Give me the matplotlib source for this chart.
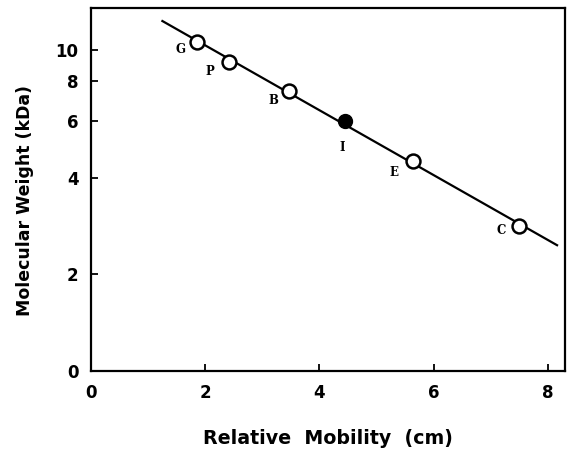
import numpy as np
import matplotlib
matplotlib.use("Agg")
import matplotlib.pyplot as plt
from matplotlib.ticker import FixedLocator, FixedFormatter, NullLocator

# standards (open) and the unknown (filled)
std_names = ["G", "P", "B", "E", "C"]
std_mobility = [1.86, 2.42, 3.47, 5.63, 7.49]
std_mw = [10.6, 9.17, 7.45, 4.5, 2.82]

unk_name = "I"
unk_mobility = [4.44]
unk_mw = [6.0]

# label offsets in pixels (dx, dy) from marker
label_off = {"G": (-17, -8), "P": (-19, -9), "B": (-16, -9),
             "I": (-2, -26), "E": (-19, -11), "C": (-18, -4)}

line_x = [1.25, 8.16]

ytick_vals = [1, 2, 4, 6, 8, 10]
ytick_lbls = ["0", "2", "4", "6", "8", "10"]
xtick_vals = [0, 2, 4, 6, 8]

plt.rcParams['font.family'] = ['DejaVu Sans']

fig = plt.figure(figsize=(5.76, 4.53), dpi=100)
ax = fig.add_axes([0.158, 0.181, 0.823, 0.801])
ax.set_yscale('log')

# regression line in log space
all_x = np.array(std_mobility + unk_mobility)
all_y = np.log10(np.array(std_mw + unk_mw))
coef = np.polyfit(all_x, all_y, 1)
lx = np.array(line_x)
ax.plot(lx, 10 ** np.polyval(coef, lx), color='black', lw=1.6, zorder=1)

ax.plot(std_mobility, std_mw, 'o', ms=10, mfc='white', mec='black', mew=1.8, zorder=2)
ax.plot(unk_mobility, unk_mw, 'o', ms=10, mfc='black', mec='black', zorder=2)

for n, x, y in zip(std_names + [unk_name], std_mobility + unk_mobility, std_mw + unk_mw):
    dx, dy = label_off[n]
    ax.annotate(n, (x, y), xytext=(dx * 0.72, dy * 0.72), textcoords='offset points',
                ha='center', va='center', fontsize=8.5, fontweight='bold', family='DejaVu Serif')

ax.set_xlim(0, 8.3)
ax.set_ylim(1, 13.5)
ax.yaxis.set_major_locator(FixedLocator(ytick_vals))
ax.yaxis.set_major_formatter(FixedFormatter(ytick_lbls))
ax.yaxis.set_minor_locator(NullLocator())
ax.set_xticks(xtick_vals)

ax.tick_params(direction='in', length=5, width=1.3, labelsize=12)
ax.tick_params(axis='y', pad=9)
ax.tick_params(axis='x', pad=9)
for lbl in ax.get_xticklabels() + ax.get_yticklabels():
    lbl.set_fontweight('bold')
for s in ax.spines.values():
    s.set_linewidth(1.6)

ax.set_xlabel("Relative  Mobility  (cm)", fontsize=13.7, fontweight='bold', labelpad=20)
ax.set_ylabel("Molecular Weight (kDa)", fontsize=12.5, fontweight='bold')
ax.yaxis.set_label_coords(-0.12, 0.47)

fig.savefig("out.png", dpi=100)
